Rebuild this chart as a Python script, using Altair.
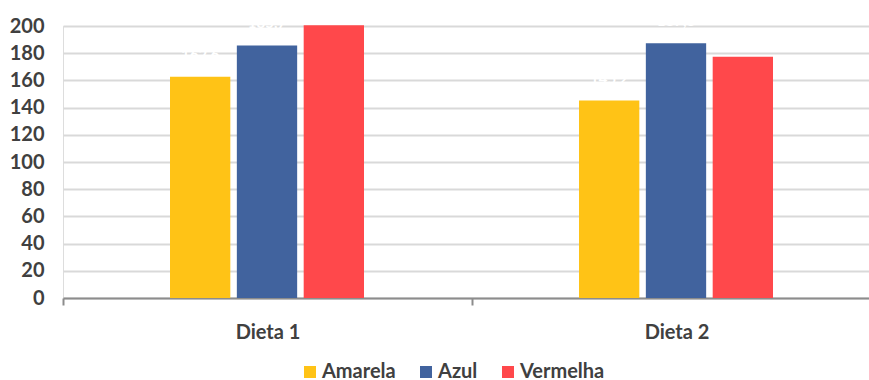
import altair as alt
import pandas as pd

# Grouped bar chart: three colours per diet
dietas = ["Dieta 1", "Dieta 2"]
cores = ["Amarela", "Azul", "Vermelha"]
valores_dieta1 = [162.6, 185.7, 200.6]
valores_dieta2 = [145.2, 187.3, 177.4]
paleta = ["#FFC316", "#41639E", "#FF484B"]
y_ticks = [0, 20, 40, 60, 80, 100, 120, 140, 160, 180, 200]

rows = []
for dieta, vals in zip(dietas, [valores_dieta1, valores_dieta2]):
    for cor, v in zip(cores, vals):
        rows.append({"Dieta": dieta, "Cor": cor, "Valor": v})
df = pd.DataFrame(rows)

FONT = "Lato"
TEXT_COLOR = "#404040"

x_enc = alt.X(
    "Dieta:N",
    sort=dietas,
    title=None,
    scale=alt.Scale(range=[0, 818], paddingInner=0, paddingOuter=0),
    axis=alt.Axis(
        labelAngle=0,
        labelFont=FONT,
        labelFontSize=20,
        labelFontWeight="bold",
        labelColor=TEXT_COLOR,
        labelPadding=17,
        domainColor="#8C8C8C",
        domainWidth=2,
        tickColor="#8C8C8C",
        tickWidth=2,
        tickSize=7,
        tickBand="extent",
        grid=False,
    ),
)

# bars sit in the middle of each diet's band
x_offset = alt.XOffset(
    "Cor:N",
    sort=cores,
    scale=alt.Scale(range=[107, 301], paddingInner=0.0977, paddingOuter=0),
)

y_enc = alt.Y(
    "Valor:Q",
    title=None,
    scale=alt.Scale(domain=[0, 200], nice=False),
    axis=alt.Axis(
        values=y_ticks,
        tickCount=11,
        labelOverlap=False,
        labelFont=FONT,
        labelFontSize=20,
        labelFontWeight="bold",
        labelColor=TEXT_COLOR,
        labelPadding=19,
        domain=False,
        ticks=False,
        gridColor="#D9D9D9",
        gridWidth=2,
    ),
)

color_enc = alt.Color(
    "Cor:N",
    sort=cores,
    scale=alt.Scale(domain=cores, range=paleta),
    legend=alt.Legend(
        title=None,
        orient="none",
        direction="horizontal",
        legendX=237,
        legendY=336,
        symbolType="square",
        symbolSize=144,
        symbolStrokeWidth=0,
        labelFont=FONT,
        labelFontSize=20,
        labelFontWeight="bold",
        labelColor=TEXT_COLOR,
        labelOffset=2,
        columnPadding=20,
    ),
)

bars = alt.Chart(df).mark_bar().encode(
    x=x_enc,
    xOffset=x_offset,
    y=y_enc,
    color=color_enc,
)

labels = (
    alt.Chart(df)
    .transform_calculate(rotulo="replace(format(datum.Valor, '.1f'), '.', ',')")
    .mark_text(
        color="white",
        font=FONT,
        fontSize=15,
        fontWeight="bold",
        baseline="middle",
        dy=-22,
    )
    .encode(
        x=x_enc,
        xOffset=x_offset,
        y=y_enc,
        text="rotulo:N",
    )
)

chart = (
    alt.layer(bars, labels)
    .properties(
        width=806,
        height=272,
        autosize=alt.AutoSizeParams(type="none"),
        padding={"left": 63, "top": 26, "right": 0, "bottom": 82},
    )
    .configure_view(stroke=None)
    .configure(background="white")
)

chart.save("out.html", embed_options={"renderer": "svg", "actions": False})
